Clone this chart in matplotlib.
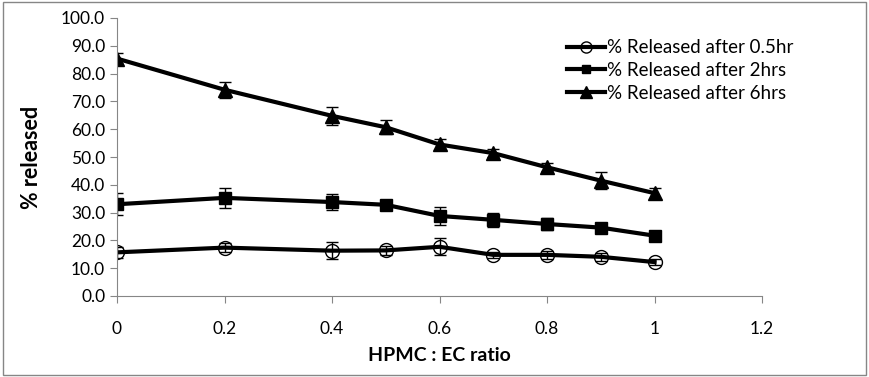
import numpy as np
import matplotlib.pyplot as plt
from matplotlib.patches import Rectangle

plt.rcParams['font.family'] = ['Lato', 'DejaVu Sans']

ratio = [0, 0.2, 0.4, 0.5, 0.6, 0.7, 0.8, 0.9, 1.0]
rel_05 = [15.7, 17.4, 16.3, 16.4, 17.7, 14.8, 14.8, 14.1, 12.2]
err_05 = [2.0, 1.5, 3.0, 1.5, 3.0, 1.0, 1.5, 1.5, 1.2]
rel_2 = [33.0, 35.3, 33.8, 32.8, 28.8, 27.4, 25.9, 24.6, 21.7]
err_2 = [4.0, 3.6, 2.8, 1.5, 3.2, 2.5, 2.0, 1.5, 1.5]
rel_6 = [85.4, 74.2, 64.8, 60.7, 54.5, 51.4, 46.3, 41.5, 37.0]
err_6 = [2.0, 2.8, 3.3, 2.5, 2.0, 1.5, 1.5, 3.0, 2.0]

labels = ['% Released after 0.5hr', '% Released after 2hrs', '% Released after 6hrs']

fig = plt.figure(figsize=(8.69, 3.77), dpi=100)
ax = fig.add_axes([117/869, 1-296/377, 645/869, 278/377])

common = dict(color='black', lw=3, ecolor='black', elinewidth=1, capsize=4, capthick=1)
ax.errorbar(ratio, rel_05, yerr=err_05, marker='o', ms=10, mfc='none', mec='black', mew=1,
            label=labels[0], **common)
ax.errorbar(ratio, rel_2, yerr=err_2, marker='s', ms=8, mfc='black', mec='black',
            label=labels[1], **common)
ax.errorbar(ratio, rel_6, yerr=err_6, marker='^', ms=10, mfc='black', mec='black',
            label=labels[2], **common)

ax.set_xlim(0, 1.2)
ax.set_ylim(0, 100)
ax.set_xticks(np.arange(0, 1.21, 0.2))
ax.set_xticklabels(['0', '0.2', '0.4', '0.6', '0.8', '1', '1.2'])
ax.set_yticks(np.arange(0, 101, 10))
ax.set_yticklabels(['%.1f' % v for v in np.arange(0, 101, 10)])
for s in ['top', 'right']:
    ax.spines[s].set_visible(False)
for s in ['left', 'bottom']:
    ax.spines[s].set_color('#868686')
ax.tick_params(axis='both', colors='#868686', labelcolor='black', labelsize=12.5, length=5)
ax.tick_params(axis='x', pad=13)
ax.set_xlabel('HPMC : EC ratio', fontsize=14, fontweight='bold', labelpad=7)
ax.set_ylabel('% released', fontsize=15.5, fontweight='bold', labelpad=14)

h, l = ax.get_legend_handles_labels()
h = [x[0] for x in h]
fig.legend(h, l, loc='upper left', bbox_to_anchor=(558/869, 1-30/377), frameon=False,
           fontsize=13.5, handlelength=2.0, handletextpad=0.1, labelspacing=0.3, borderpad=0,
           markerscale=0.8)

fig.patches.append(Rectangle((0.004, 0.005), 0.992, 0.99, transform=fig.transFigure,
                             fill=False, edgecolor='#868686', lw=1))
fig.savefig('out.png', dpi=100)
